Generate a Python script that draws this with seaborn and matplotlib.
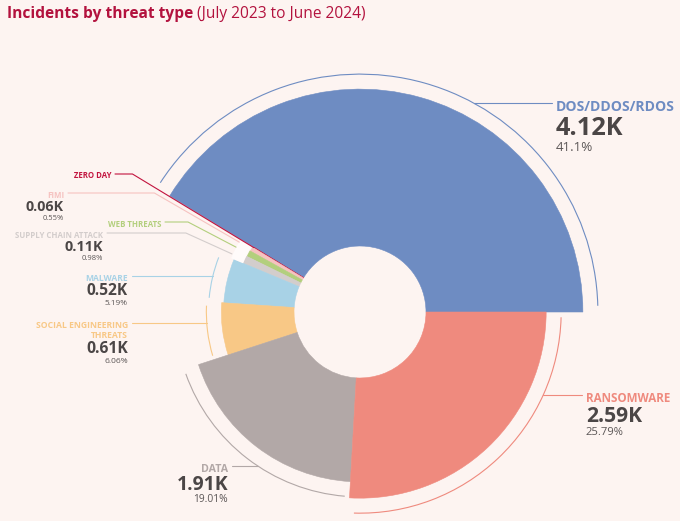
import numpy as np
import matplotlib.pyplot as plt
from matplotlib.patches import Wedge, Arc
import seaborn as sns

sns.set_theme(style="white")
plt.rcParams['font.family'] = ['Open Sans', 'DejaVu Sans']

# ---- data ----
threats = ['DOS/DDOS/RDOS', 'ZERO DAY', 'FIMI', 'WEB THREATS', 'SUPPLY CHAIN ATTACK',
           'MALWARE', 'SOCIAL ENGINEERING\nTHREATS', 'DATA', 'RANSOMWARE']
incidents_k = [4.12, 0.01, 0.06, 0.08, 0.11, 0.52, 0.61, 1.91, 2.59]
share_pct = [41.1, 0.1, 0.55, 0.8, 0.98, 5.19, 6.06, 19.01, 25.79]
show_figures = [True, False, True, False, True, True, True, True, True]

COLORS = ['#6e8cc2', '#c2133e', '#f6c2c0', '#b3cf7d', '#d3cdcc',
          '#a8d2e6', '#f8c886', '#b2a8a7', '#ef8a7e']
BG = '#fdf4f1'
TITLE = '#b3123e'
VALUE_COL = '#4b4646'
PCT_COL = '#5b5656'

# label layout in pixel coords: (leader end x, leader y, side, leader start offset)
LAYOUT = [
    (552, 103, 'right', 15),
    (115, 174, 'left', 0),
    (68, 193, 'left', 14),
    (165, 222, 'left', 14),
    (107, 233, 'left', 14),
    (132, 276, 'left', 15),
    (132, 323, 'left', 15),
    (232, 466, 'left', 15),
    (582, 395, 'right', 15),
]

CX, CY, HOLE = 360, 312, 66


def radius(v):
    # radial scale: incidents (K) -> outer radius in px
    return 124 + 24 * v


shares = np.array(share_pct)
ang = shares / shares.sum() * 360
ends = np.cumsum(ang)
starts = ends - ang

fig = plt.figure(figsize=(6.8, 5.21), dpi=100)
fig.patch.set_facecolor(BG)
ax = fig.add_axes([0, 0, 1, 1])
ax.set_xlim(0, 680)
ax.set_ylim(521, 0)
ax.axis('off')

# slices (y axis is flipped, so angles are negated)
for i, v in enumerate(incidents_k):
    r = radius(v)
    ax.add_patch(Wedge((CX, CY), r, -ends[i], -starts[i], width=r - HOLE,
                       facecolor=COLORS[i], edgecolor=COLORS[i], lw=0.4))

# white notch beyond the small slices
small = [i for i, v in enumerate(incidents_k) if v < 0.5 and LAYOUT[i][3] > 0]
r_small = radius(max(incidents_k[i] for i in small))
ax.add_patch(Wedge((CX, CY), r_small + 13, -ends[max(small)], -starts[min(small)],
                   width=13, facecolor='#fffbfa', edgecolor='none'))

for i, (name, v) in enumerate(zip(threats, incidents_k)):
    r = radius(v)
    c = COLORS[i]
    x_end, y_lead, side, off = LAYOUT[i]
    sgn = 1 if side == 'right' else -1

    if v >= 0.5:
        ra = r + off
        ax.add_patch(Arc((CX, CY), 2 * ra, 2 * ra, theta1=-(ends[i] - 1.5),
                         theta2=-(starts[i] + 1.5), color=c, lw=0.8))
        dy = y_lead - CY
        x0 = CX + sgn * np.sqrt(ra ** 2 - dy ** 2)
        ax.plot([x0, x_end], [y_lead, y_lead], color=c, lw=0.8)
    else:
        m = np.radians((starts[i] + ends[i]) / 2)
        rs = r + off
        t = (CY - y_lead) / np.sin(m)
        xs = [CX + rs * np.cos(m), CX + t * np.cos(m), x_end]
        ys = [CY - rs * np.sin(m), y_lead, y_lead]
        ax.plot(xs, ys, color=c, lw=0.8)

    vpt = 0.082 * r
    lpt = 0.55 * vpt
    ppt = 0.53 * vpt
    tx = x_end + 4 * sgn
    ha = 'left' if side == 'right' else 'right'

    base = y_lead + 0.8 * lpt
    for k, line in enumerate(name.split('\n')):
        if k:
            base += 1.6 * lpt
        ax.text(tx, base, line, fontsize=lpt, fontweight='bold', color=c,
                ha=ha, va='baseline')
    if show_figures[i]:
        vb = base + 0.3 * vpt + vpt
        ax.text(tx, vb, f"{v:.2f}K", fontsize=vpt, fontweight='bold',
                color=VALUE_COL, ha=ha, va='baseline')
        pb = vb + 0.35 * vpt + ppt
        ax.text(tx, pb, f"{share_pct[i]:g}%", fontsize=ppt, color=PCT_COL,
                ha=ha, va='baseline')

# title: bold part + regular part
t1 = ax.text(7, 18, 'Incidents by threat type', fontsize=11.2, fontweight='bold',
             color=TITLE, va='baseline')
fig.canvas.draw()
bb = t1.get_window_extent()
x1 = ax.transData.inverted().transform((bb.x1, bb.y0))[0]
ax.text(x1 + 3.5, 18, '(July 2023 to June 2024)', fontsize=11.2, color=TITLE,
        va='baseline')

fig.savefig('out.png', dpi=100, facecolor=BG)
